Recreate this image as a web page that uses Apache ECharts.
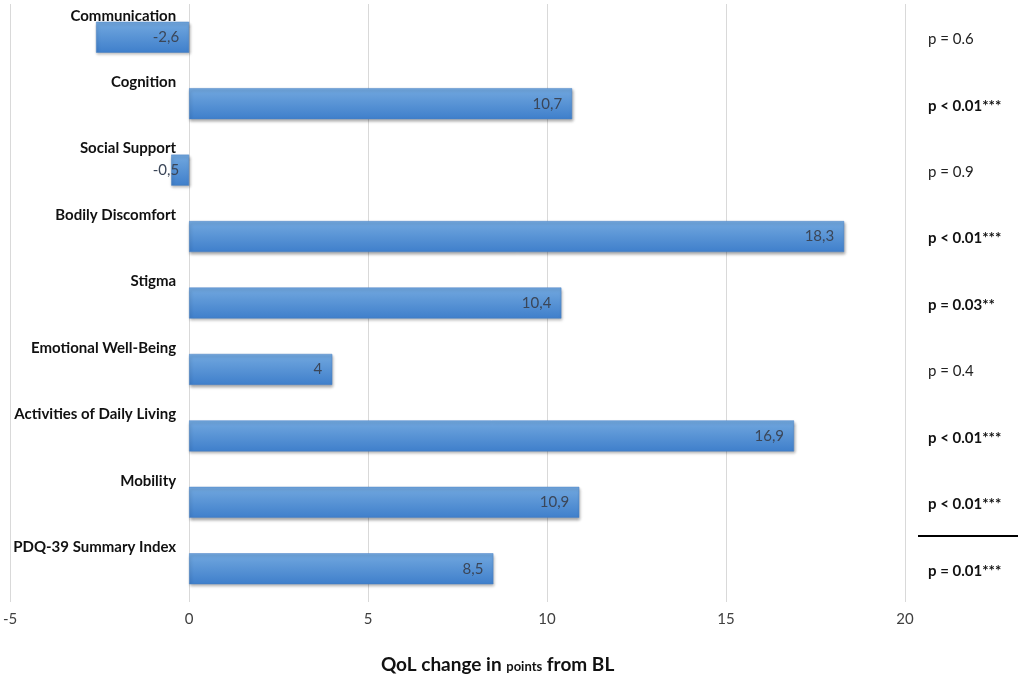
<!DOCTYPE html>
<html lang="en">
<head>
    <meta charset="UTF-8">
    <title>QoL change</title>
    <script src="https://cdn.jsdelivr.net/npm/echarts@6/dist/echarts.min.js"></script>
    <style>
        html, body { margin: 0; padding: 0; background: #fff; }
        #main { width: 1021px; height: 679px; }
    </style>
</head>
<body>
<div id="main"></div>
<script type="text/javascript">
    // data
    var categories = ['Communication', 'Cognition', 'Social Support', 'Bodily Discomfort', 'Stigma',
        'Emotional Well-Being', 'Activities of Daily Living', 'Mobility', 'PDQ-39 Summary Index'];
    var changes = [-2.6, 10.7, -0.5, 18.3, 10.4, 4, 16.9, 10.9, 8.5];
    var pValues = ['p = 0.6', 'p < 0.01***', 'p = 0.9', 'p < 0.01***', 'p = 0.03**',
        'p = 0.4', 'p < 0.01***', 'p < 0.01***', 'p = 0.01***'];
    var xTicks = [-5, 0, 5, 10, 15, 20];

    var myChart = echarts.init(document.getElementById('main'));
    var font = 'Lato, "Open Sans", sans-serif';

    var option = {
        animation: false,
        grid: { left: 10, right: 116, top: 4, bottom: 75 },
        xAxis: {
            type: 'value',
            min: xTicks[0],
            max: xTicks[xTicks.length - 1],
            interval: 5,
            axisLine: { show: false },
            axisTick: { show: false },
            splitLine: { show: true, lineStyle: { color: '#d9d9d9', width: 1 } },
            axisLabel: { color: '#404040', fontSize: 15, fontFamily: font, margin: 10 },
            name: '{a|QoL change in }{b|points}{a| from BL}',
            nameLocation: 'middle',
            nameGap: 53,
            nameTextStyle: {
                padding: [0, 0, 0, 80],
                rich: {
                    a: { fontSize: 19, fontWeight: 'bold', color: '#111', fontFamily: font },
                    b: { fontSize: 13, fontWeight: 'bold', color: '#111', fontFamily: font, padding: [4, 0, 0, 0] }
                }
            }
        },
        yAxis: [
            {
                type: 'category',
                data: categories,
                inverse: true,
                axisLine: { show: false },
                axisTick: { show: false },
                axisLabel: {
                    margin: -166,
                    align: 'right',
                    verticalAlign: 'bottom',
                    padding: [0, 0, 14, 0],
                    color: '#111',
                    fontSize: 15,
                    fontWeight: 'bold',
                    fontFamily: font
                }
            },
            {
                type: 'category',
                data: pValues,
                inverse: true,
                position: 'right',
                axisLine: { show: false },
                axisTick: { show: false },
                axisLabel: {
                    margin: 23,
                    align: 'left',
                    fontFamily: font,
                    formatter: function (v) {
                        return v.indexOf('*') >= 0 ? '{b|' + v + '}' : '{n|' + v + '}';
                    },
                    rich: {
                        b: { fontSize: 15, fontWeight: 'bold', color: '#111', fontFamily: font, padding: [4, 0, 0, 0] },
                        n: { fontSize: 15, color: '#222', fontFamily: font, padding: [4, 0, 0, 0] }
                    }
                }
            }
        ],
        series: [
            {
                type: 'bar',
                data: changes,
                barWidth: 31,
                itemStyle: {
                    color: new echarts.graphic.LinearGradient(0, 0, 0, 1, [
                        { offset: 0, color: '#72a8df' },
                        { offset: 1, color: '#3f7fcb' }
                    ]),
                    borderColor: '#4a83c6',
                    borderWidth: 0.5,
                    shadowColor: 'rgba(0,0,0,0.35)',
                    shadowBlur: 3,
                    shadowOffsetX: 1,
                    shadowOffsetY: 2
                },
                label: {
                    show: true,
                    position: 'insideRight',
                    distance: 10,
                    color: '#3b4658',
                    fontSize: 15,
                    fontFamily: font,
                    formatter: function (p) {
                        return String(p.value).replace('.', ',');
                    }
                }
            }
        ],
        graphic: [
            {
                type: 'line',
                shape: { x1: 918, y1: 536, x2: 1018, y2: 536 },
                style: { stroke: '#000', lineWidth: 2 }
            }
        ]
    };

    myChart.setOption(option);
</script>
</body>
</html>
